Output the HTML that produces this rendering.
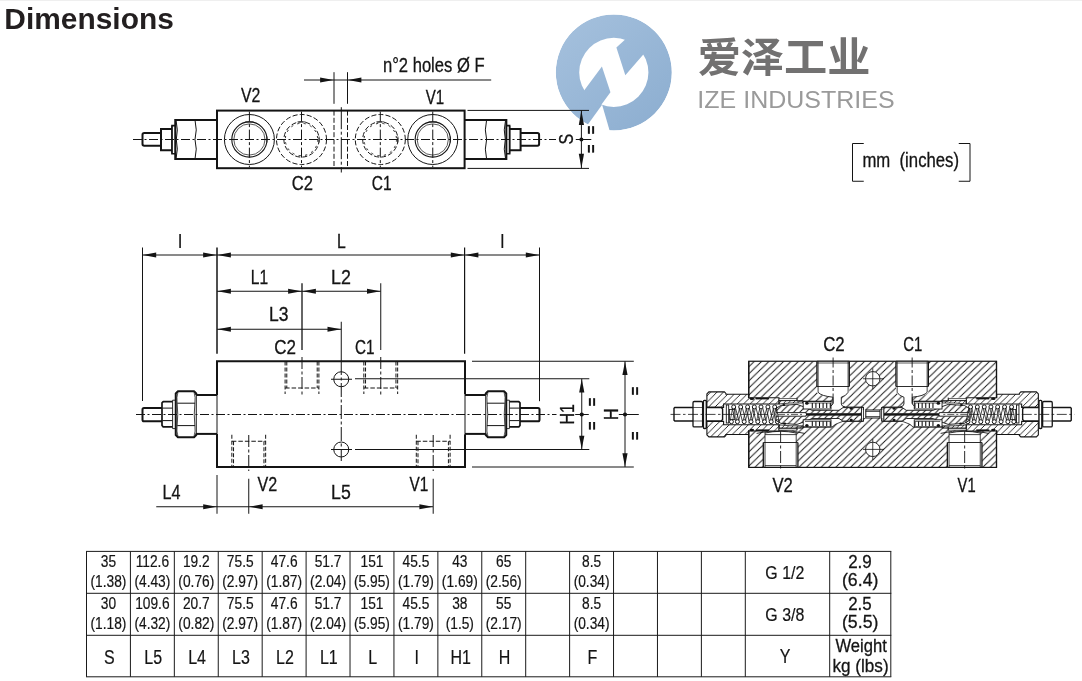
<!DOCTYPE html>
<html lang="en"><head><meta charset="utf-8"><title>Dimensions</title>
<style>html,body{margin:0;padding:0;background:#fff;overflow:hidden}svg{display:block}text{font-family:"Liberation Sans","Noto Sans CJK SC",sans-serif}</style></head>
<body>
<svg width="1082" height="681" viewBox="0 0 1082 681">
<rect width="1082" height="681" fill="#fff"/><rect width="1082" height="1" fill="#efefef"/>
<g opacity="0.999">
<defs><linearGradient id="lg" gradientUnits="userSpaceOnUse" x1="570" y1="25" x2="660" y2="120"><stop offset="0" stop-color="#a3bfdc"/><stop offset="1" stop-color="#8eafd1"/></linearGradient><clipPath id="lc"><circle cx="613.81" cy="72.38" r="58.0"/></clipPath></defs>
<g clip-path="url(#lc)">
<path fill="url(#lg)" fill-rule="evenodd" d="M555.81,72.38 a58.0,58.0 0 1,0 116.0,0 a58.0,58.0 0 1,0 -116.0,0 Z M579.21,72.38 a34.6,34.6 0 1,0 69.2,0 a34.6,34.6 0 1,0 -69.2,0 Z"/>
<polygon fill="url(#lg)" points="625.70,39.09 616.39,47.61 625.31,75.35 643.54,54.15 653.05,44.64 637.20,30.76"/>
<polygon fill="url(#lg)" points="584.09,90.61 601.92,66.43 610.44,92.20 601.13,105.08 585.67,115.98 573.78,98.14"/>
<polygon fill="#ffffff" points="602.12,104.68 579.73,135.80 613.42,143.72"/>
</g>
<text transform="translate(4.36,28.90) scale(0.9970,1)" font-size="30" fill="#231f20" font-weight="bold">Dimensions</text>
<text x="697.7" y="71.6" font-family="'Liberation Sans','Noto Sans CJK SC',sans-serif" font-weight="bold" font-size="41" fill="#727171" textLength="172.8" lengthAdjust="spacingAndGlyphs">爱泽工业</text>
<text transform="translate(697.35,107.80) scale(1.0211,1)" font-size="24.5" fill="#9a9a9a">IZE INDUSTRIES</text>
<path d="M863.75,143.5 H852.5 V181.25 H863.75" fill="none" stroke="#141414" stroke-width="1.0" stroke-linejoin="miter"/>
<path d="M958.75,143.5 H970 V181.25 H958.75" fill="none" stroke="#141414" stroke-width="1.0" stroke-linejoin="miter"/>
<text transform="translate(862.41,167.00) scale(0.8577,1)" font-size="19.5" fill="#141414" xml:space="preserve" stroke="#141414" stroke-width="0.3">mm  (inches)</text>
<line x1="133.00" y1="139.50" x2="556.00" y2="139.50" stroke="#141414" stroke-width="1.0" stroke-dasharray="9 2.5 2 2.5"/>
<path d="M161.00,133.1 H144.20 Q142.50,133.1 142.50,134.8 V144 Q142.50,145.7 144.20,145.7 H161.00" fill="none" stroke="#141414" stroke-width="2.0" stroke-linejoin="miter"/>
<path d="M172.00,129 H161.00 V150.25 H172.00" fill="none" stroke="#141414" stroke-width="2.0" stroke-linejoin="miter"/>
<path d="M175.25,125.6 H172.00 V153.75 H175.25" fill="none" stroke="#141414" stroke-width="1.7" stroke-linejoin="miter"/>
<path d="M217.00,120 H175.25 V159 H217.00" fill="none" stroke="#141414" stroke-width="2.0" stroke-linejoin="miter"/>
<path d="M195.00,120 Q197.50,130 195.00,139.5 Q197.50,149 195.00,159" fill="none" stroke="#141414" stroke-width="1.0" stroke-linejoin="miter"/>
<path d="M176.00,120 Q178.50,130 176.30,139.5 Q178.50,149 176.00,159" fill="none" stroke="#141414" stroke-width="1.0" stroke-linejoin="miter"/>
<line x1="171.70" y1="126.00" x2="171.70" y2="153.50" stroke="#141414" stroke-width="0.7"/>
<path d="M520.60,133.1 H537.40 Q539.10,133.1 539.10,134.8 V144 Q539.10,145.7 537.40,145.7 H520.60" fill="none" stroke="#141414" stroke-width="2.0" stroke-linejoin="miter"/>
<path d="M509.60,129 H520.60 V150.25 H509.60" fill="none" stroke="#141414" stroke-width="2.0" stroke-linejoin="miter"/>
<path d="M506.35,125.6 H509.60 V153.75 H506.35" fill="none" stroke="#141414" stroke-width="1.7" stroke-linejoin="miter"/>
<path d="M464.60,120 H506.35 V159 H464.60" fill="none" stroke="#141414" stroke-width="2.0" stroke-linejoin="miter"/>
<path d="M486.60,120 Q484.10,130 486.60,139.5 Q484.10,149 486.60,159" fill="none" stroke="#141414" stroke-width="1.0" stroke-linejoin="miter"/>
<path d="M505.60,120 Q503.10,130 505.30,139.5 Q503.10,149 505.60,159" fill="none" stroke="#141414" stroke-width="1.0" stroke-linejoin="miter"/>
<line x1="509.90" y1="126.00" x2="509.90" y2="153.50" stroke="#141414" stroke-width="0.7"/>
<rect x="217.00" y="110.60" width="247.60" height="57.60" fill="none" stroke="#141414" stroke-width="2.0"/>
<circle cx="249.40" cy="139.50" r="25.00" fill="none" stroke="#141414" stroke-width="1.0"/>
<circle cx="249.40" cy="139.50" r="17.60" fill="none" stroke="#141414" stroke-width="1.1"/>
<circle cx="249.40" cy="139.50" r="15.60" fill="none" stroke="#141414" stroke-width="0.7"/>
<line x1="249.40" y1="111.60" x2="249.40" y2="167.20" stroke="#141414" stroke-width="1.0" stroke-dasharray="10 2.5 3 2.5"/>
<line x1="245.40" y1="121.90" x2="253.40" y2="121.90" stroke="#141414" stroke-width="0.8"/>
<line x1="267.00" y1="136.50" x2="267.00" y2="142.50" stroke="#141414" stroke-width="0.8"/>
<circle cx="432.75" cy="139.50" r="25.00" fill="none" stroke="#141414" stroke-width="1.0"/>
<circle cx="432.75" cy="139.50" r="17.60" fill="none" stroke="#141414" stroke-width="1.1"/>
<circle cx="432.75" cy="139.50" r="15.60" fill="none" stroke="#141414" stroke-width="0.7"/>
<line x1="432.75" y1="111.60" x2="432.75" y2="167.20" stroke="#141414" stroke-width="1.0" stroke-dasharray="10 2.5 3 2.5"/>
<line x1="428.75" y1="121.90" x2="436.75" y2="121.90" stroke="#141414" stroke-width="0.8"/>
<line x1="450.35" y1="136.50" x2="450.35" y2="142.50" stroke="#141414" stroke-width="0.8"/>
<circle cx="301.50" cy="139.50" r="25.00" fill="none" stroke="#141414" stroke-width="1.0" stroke-dasharray="5 2.2"/>
<circle cx="301.50" cy="139.50" r="17.60" fill="none" stroke="#141414" stroke-width="1.0" stroke-dasharray="5 2.2"/>
<circle cx="301.50" cy="139.50" r="16.20" fill="none" stroke="#141414" stroke-width="0.9" stroke-dasharray="2.2 4.3"/>
<line x1="301.50" y1="111.60" x2="301.50" y2="167.20" stroke="#141414" stroke-width="1.0" stroke-dasharray="10 2.5 3 2.5"/>
<line x1="297.50" y1="121.90" x2="305.50" y2="121.90" stroke="#141414" stroke-width="0.8"/>
<line x1="319.10" y1="136.50" x2="319.10" y2="142.50" stroke="#141414" stroke-width="0.8"/>
<circle cx="380.30" cy="139.50" r="25.00" fill="none" stroke="#141414" stroke-width="1.0" stroke-dasharray="5 2.2"/>
<circle cx="380.30" cy="139.50" r="17.60" fill="none" stroke="#141414" stroke-width="1.0" stroke-dasharray="5 2.2"/>
<circle cx="380.30" cy="139.50" r="16.20" fill="none" stroke="#141414" stroke-width="0.9" stroke-dasharray="2.2 4.3"/>
<line x1="380.30" y1="111.60" x2="380.30" y2="167.20" stroke="#141414" stroke-width="1.0" stroke-dasharray="10 2.5 3 2.5"/>
<line x1="376.30" y1="121.90" x2="384.30" y2="121.90" stroke="#141414" stroke-width="0.8"/>
<line x1="397.90" y1="136.50" x2="397.90" y2="142.50" stroke="#141414" stroke-width="0.8"/>
<line x1="334.00" y1="110.60" x2="334.00" y2="168.20" stroke="#141414" stroke-width="1.0" stroke-dasharray="5 2.2"/>
<line x1="347.50" y1="110.60" x2="347.50" y2="168.20" stroke="#141414" stroke-width="1.0" stroke-dasharray="5 2.2"/>
<line x1="341.30" y1="107.20" x2="341.30" y2="172.50" stroke="#141414" stroke-width="1.0" stroke-dasharray="22 2.5 3 2.5"/>
<line x1="334.00" y1="72.20" x2="334.00" y2="103.80" stroke="#141414" stroke-width="1.0"/>
<line x1="347.50" y1="72.20" x2="347.50" y2="103.80" stroke="#141414" stroke-width="1.0"/>
<line x1="304.00" y1="80.00" x2="347.50" y2="80.00" stroke="#141414" stroke-width="1.0"/>
<polygon points="333.60,80.00 320.10,82.60 320.10,77.40" fill="#141414"/>
<line x1="347.50" y1="80.00" x2="491.20" y2="80.00" stroke="#141414" stroke-width="1.0"/>
<polygon points="347.90,80.00 361.40,77.40 361.40,82.60" fill="#141414"/>
<text transform="translate(382.92,71.50) scale(0.8306,1)" font-size="20" fill="#141414" stroke="#141414" stroke-width="0.3">n°2 holes Ø F</text>
<line x1="467.50" y1="110.40" x2="589.00" y2="110.40" stroke="#141414" stroke-width="1.0"/>
<line x1="467.50" y1="168.40" x2="589.00" y2="168.40" stroke="#141414" stroke-width="1.0"/>
<line x1="581.40" y1="110.40" x2="581.40" y2="168.40" stroke="#141414" stroke-width="1.0"/>
<polygon points="581.40,110.60 584.00,125.10 578.80,125.10" fill="#141414"/>
<polygon points="581.40,168.20 578.80,153.70 584.00,153.70" fill="#141414"/>
<circle cx="581.40" cy="139.50" r="2.00" fill="#141414" stroke="#141414" stroke-width="0"/>
<line x1="575.80" y1="139.50" x2="591.30" y2="139.50" stroke="#141414" stroke-width="1.0"/>
<text transform="translate(573.40,139.20) rotate(-90) scale(0.82,1)" font-size="19.5" fill="#141414" stroke="#141414" stroke-width="0.32" text-anchor="middle">S</text>
<text transform="translate(596.85,130.10) rotate(-90) scale(0.84,1)" font-size="17.4" fill="#141414" stroke="#141414" stroke-width="0.25" font-weight="bold" text-anchor="middle">=</text>
<text transform="translate(596.85,148.85) rotate(-90) scale(0.84,1)" font-size="17.4" fill="#141414" stroke="#141414" stroke-width="0.25" font-weight="bold" text-anchor="middle">=</text>
<text transform="translate(240.92,101.80) scale(0.8144,1)" font-size="19.5" fill="#141414" stroke="#141414" stroke-width="0.3">V2</text>
<text transform="translate(425.82,104.00) scale(0.7714,1)" font-size="19.5" fill="#141414" stroke="#141414" stroke-width="0.3">V1</text>
<text transform="translate(291.67,190.00) scale(0.8511,1)" font-size="19.5" fill="#141414" stroke="#141414" stroke-width="0.3">C2</text>
<text transform="translate(371.72,190.00) scale(0.7953,1)" font-size="19.5" fill="#141414" stroke="#141414" stroke-width="0.3">C1</text>
<line x1="136.00" y1="414.50" x2="556.50" y2="414.50" stroke="#141414" stroke-width="1.0" stroke-dasharray="9 2.5 2 2.5"/>
<line x1="575.20" y1="414.50" x2="588.80" y2="414.50" stroke="#141414" stroke-width="1.0"/>
<line x1="618.80" y1="414.50" x2="638.80" y2="414.50" stroke="#141414" stroke-width="1.0"/>
<line x1="196.20" y1="395.00" x2="217.00" y2="395.00" stroke="#141414" stroke-width="2.0"/>
<line x1="196.20" y1="433.90" x2="217.00" y2="433.90" stroke="#141414" stroke-width="2.0"/>
<path d="M196.25,394.95 V393.45 L194.05,391.25 H177.95 L175.75,393.45 V435.0 L177.95,437.2 H194.05 L196.25,435.0 V433.5" fill="none" stroke="#141414" stroke-width="2.0" stroke-linejoin="round"/>
<line x1="196.25" y1="393.45" x2="196.25" y2="435.00" stroke="#141414" stroke-width="1.0"/>
<line x1="177.25" y1="403.20" x2="195.05" y2="403.20" stroke="#141414" stroke-width="1.0"/>
<line x1="177.25" y1="425.60" x2="195.05" y2="425.60" stroke="#141414" stroke-width="1.0"/>
<path d="M177.95,392.25 Q176.35,397.25 177.15,403.2 M177.95,436.2 Q176.35,431.2 177.15,425.6" fill="none" stroke="#141414" stroke-width="0.7" stroke-linejoin="miter"/>
<path d="M194.05,392.25 Q195.65,397.25 194.85,403.2 M194.05,436.2 Q195.65,431.2 194.85,425.6" fill="none" stroke="#141414" stroke-width="0.7" stroke-linejoin="miter"/>
<path d="M177.15,403.2 Q178.35,414.4 177.15,425.6 M194.85,403.2 Q193.65,414.4 194.85,425.6" fill="none" stroke="#141414" stroke-width="0.8" stroke-linejoin="miter"/>
<line x1="172.60" y1="400.20" x2="172.60" y2="428.60" stroke="#141414" stroke-width="0.9"/>
<line x1="172.60" y1="400.20" x2="175.50" y2="400.20" stroke="#141414" stroke-width="0.9"/>
<line x1="172.60" y1="428.60" x2="175.50" y2="428.60" stroke="#141414" stroke-width="0.9"/>
<path d="M172.50,401.6 H163.20 L162.00,402.9 V425.5 L163.20,426.8 H172.50" fill="none" stroke="#141414" stroke-width="1.7" stroke-linejoin="round"/>
<line x1="162.50" y1="408.10" x2="172.50" y2="408.10" stroke="#141414" stroke-width="1.0"/>
<line x1="162.50" y1="420.60" x2="172.50" y2="420.60" stroke="#141414" stroke-width="1.0"/>
<path d="M162.00,408 H144.00 Q142.50,408 142.50,409.5 V419.7 Q142.50,421.25 144.00,421.25 H162.00" fill="none" stroke="#141414" stroke-width="2.0" stroke-linejoin="miter"/>
<line x1="217.00" y1="395.00" x2="217.00" y2="433.90" stroke="#141414" stroke-width="1.0"/>
<line x1="485.80" y1="395.00" x2="465.00" y2="395.00" stroke="#141414" stroke-width="2.0"/>
<line x1="485.80" y1="433.90" x2="465.00" y2="433.90" stroke="#141414" stroke-width="2.0"/>
<path d="M485.75,394.95 V393.45 L487.95,391.25 H504.05 L506.25,393.45 V435.0 L504.05,437.2 H487.95 L485.75,435.0 V433.5" fill="none" stroke="#141414" stroke-width="2.0" stroke-linejoin="round"/>
<line x1="485.75" y1="393.45" x2="485.75" y2="435.00" stroke="#141414" stroke-width="1.0"/>
<line x1="504.75" y1="403.20" x2="486.95" y2="403.20" stroke="#141414" stroke-width="1.0"/>
<line x1="504.75" y1="425.60" x2="486.95" y2="425.60" stroke="#141414" stroke-width="1.0"/>
<path d="M504.05,392.25 Q505.65,397.25 504.85,403.2 M504.05,436.2 Q505.65,431.2 504.85,425.6" fill="none" stroke="#141414" stroke-width="0.7" stroke-linejoin="miter"/>
<path d="M487.95,392.25 Q486.35,397.25 487.15,403.2 M487.95,436.2 Q486.35,431.2 487.15,425.6" fill="none" stroke="#141414" stroke-width="0.7" stroke-linejoin="miter"/>
<path d="M504.85,403.2 Q503.65,414.4 504.85,425.6 M487.15,403.2 Q488.35,414.4 487.15,425.6" fill="none" stroke="#141414" stroke-width="0.8" stroke-linejoin="miter"/>
<line x1="509.40" y1="400.20" x2="509.40" y2="428.60" stroke="#141414" stroke-width="0.9"/>
<line x1="509.40" y1="400.20" x2="506.50" y2="400.20" stroke="#141414" stroke-width="0.9"/>
<line x1="509.40" y1="428.60" x2="506.50" y2="428.60" stroke="#141414" stroke-width="0.9"/>
<path d="M509.50,401.6 H518.80 L520.00,402.9 V425.5 L518.80,426.8 H509.50" fill="none" stroke="#141414" stroke-width="1.7" stroke-linejoin="round"/>
<line x1="519.50" y1="408.10" x2="509.50" y2="408.10" stroke="#141414" stroke-width="1.0"/>
<line x1="519.50" y1="420.60" x2="509.50" y2="420.60" stroke="#141414" stroke-width="1.0"/>
<path d="M520.00,408 H538.00 Q539.50,408 539.50,409.5 V419.7 Q539.50,421.25 538.00,421.25 H520.00" fill="none" stroke="#141414" stroke-width="2.0" stroke-linejoin="miter"/>
<line x1="465.00" y1="395.00" x2="465.00" y2="433.90" stroke="#141414" stroke-width="1.0"/>
<path d="M217.0,395 V361.25 H465.0 V394.5 M217.0,433.9 V467.0 H465.0 V434.2" fill="none" stroke="#141414" stroke-width="2.0" stroke-linejoin="miter"/>
<line x1="285.10" y1="361.50" x2="285.10" y2="394.00" stroke="#141414" stroke-width="1.0" stroke-dasharray="4 2"/>
<line x1="286.79" y1="361.50" x2="286.79" y2="388.00" stroke="#141414" stroke-width="1.0" stroke-dasharray="4 2"/>
<line x1="318.90" y1="361.50" x2="318.90" y2="394.00" stroke="#141414" stroke-width="1.0" stroke-dasharray="4 2"/>
<line x1="317.21" y1="361.50" x2="317.21" y2="388.00" stroke="#141414" stroke-width="1.0" stroke-dasharray="4 2"/>
<line x1="285.10" y1="388.00" x2="318.90" y2="388.00" stroke="#141414" stroke-width="1.1" stroke-dasharray="4.5 2"/>
<line x1="363.85" y1="361.50" x2="363.85" y2="394.00" stroke="#141414" stroke-width="1.0" stroke-dasharray="4 2"/>
<line x1="365.54" y1="361.50" x2="365.54" y2="388.00" stroke="#141414" stroke-width="1.0" stroke-dasharray="4 2"/>
<line x1="397.65" y1="361.50" x2="397.65" y2="394.00" stroke="#141414" stroke-width="1.0" stroke-dasharray="4 2"/>
<line x1="395.96" y1="361.50" x2="395.96" y2="388.00" stroke="#141414" stroke-width="1.0" stroke-dasharray="4 2"/>
<line x1="363.85" y1="388.00" x2="397.65" y2="388.00" stroke="#141414" stroke-width="1.1" stroke-dasharray="4.5 2"/>
<line x1="231.85" y1="434.75" x2="231.85" y2="467.00" stroke="#141414" stroke-width="1.0" stroke-dasharray="4 2"/>
<line x1="233.54" y1="441.25" x2="233.54" y2="467.00" stroke="#141414" stroke-width="1.0" stroke-dasharray="4 2"/>
<line x1="265.65" y1="434.75" x2="265.65" y2="467.00" stroke="#141414" stroke-width="1.0" stroke-dasharray="4 2"/>
<line x1="263.96" y1="441.25" x2="263.96" y2="467.00" stroke="#141414" stroke-width="1.0" stroke-dasharray="4 2"/>
<line x1="231.85" y1="441.25" x2="265.65" y2="441.25" stroke="#141414" stroke-width="1.1" stroke-dasharray="4.5 2"/>
<line x1="416.30" y1="434.75" x2="416.30" y2="467.00" stroke="#141414" stroke-width="1.0" stroke-dasharray="4 2"/>
<line x1="417.99" y1="441.25" x2="417.99" y2="467.00" stroke="#141414" stroke-width="1.0" stroke-dasharray="4 2"/>
<line x1="450.10" y1="434.75" x2="450.10" y2="467.00" stroke="#141414" stroke-width="1.0" stroke-dasharray="4 2"/>
<line x1="448.41" y1="441.25" x2="448.41" y2="467.00" stroke="#141414" stroke-width="1.0" stroke-dasharray="4 2"/>
<line x1="416.30" y1="441.25" x2="450.10" y2="441.25" stroke="#141414" stroke-width="1.1" stroke-dasharray="4.5 2"/>
<line x1="302.00" y1="283.25" x2="302.00" y2="350.00" stroke="#141414" stroke-width="1.3"/>
<line x1="302.00" y1="357.00" x2="302.00" y2="395.00" stroke="#141414" stroke-width="1.0" stroke-dasharray="12 2.5 3 2.5"/>
<line x1="380.75" y1="283.25" x2="380.75" y2="350.00" stroke="#141414" stroke-width="1.0"/>
<line x1="380.75" y1="357.00" x2="380.75" y2="395.00" stroke="#141414" stroke-width="1.0" stroke-dasharray="12 2.5 3 2.5"/>
<line x1="248.75" y1="435.00" x2="248.75" y2="471.00" stroke="#141414" stroke-width="1.0" stroke-dasharray="12 2.5 3 2.5"/>
<line x1="433.20" y1="435.00" x2="433.20" y2="471.00" stroke="#141414" stroke-width="1.0" stroke-dasharray="12 2.5 3 2.5"/>
<circle cx="341.25" cy="379.25" r="7.50" fill="none" stroke="#141414" stroke-width="1.0"/>
<line x1="331.00" y1="379.25" x2="352.00" y2="379.25" stroke="#141414" stroke-width="1.0"/>
<circle cx="341.25" cy="449.50" r="7.50" fill="none" stroke="#141414" stroke-width="1.0"/>
<line x1="331.00" y1="449.50" x2="352.00" y2="449.50" stroke="#141414" stroke-width="1.0"/>
<line x1="341.25" y1="321.75" x2="341.25" y2="361.00" stroke="#141414" stroke-width="1.0"/>
<line x1="341.25" y1="361.00" x2="341.25" y2="461.00" stroke="#141414" stroke-width="1.0" stroke-dasharray="14 2.5 3 2.5"/>
<line x1="355.00" y1="378.75" x2="589.30" y2="378.75" stroke="#141414" stroke-width="1.0"/>
<line x1="355.00" y1="449.50" x2="589.30" y2="449.50" stroke="#141414" stroke-width="1.0"/>
<line x1="472.00" y1="361.25" x2="633.80" y2="361.25" stroke="#141414" stroke-width="1.0"/>
<line x1="472.00" y1="467.00" x2="633.80" y2="467.00" stroke="#141414" stroke-width="1.0"/>
<line x1="581.75" y1="378.75" x2="581.75" y2="449.50" stroke="#141414" stroke-width="1.0"/>
<polygon points="581.75,379.00 584.35,392.50 579.15,392.50" fill="#141414"/>
<polygon points="581.75,449.30 579.15,435.80 584.35,435.80" fill="#141414"/>
<circle cx="581.75" cy="414.50" r="2.10" fill="#141414" stroke="#141414" stroke-width="0"/>
<line x1="625.00" y1="361.25" x2="625.00" y2="467.00" stroke="#141414" stroke-width="1.0"/>
<polygon points="625.00,361.50 627.60,375.00 622.40,375.00" fill="#141414"/>
<polygon points="625.00,466.80 622.40,453.30 627.60,453.30" fill="#141414"/>
<circle cx="625.00" cy="414.50" r="2.10" fill="#141414" stroke="#141414" stroke-width="0"/>
<text transform="translate(574.30,414.30) rotate(-90) scale(0.82,1)" font-size="19.5" fill="#141414" stroke="#141414" stroke-width="0.32" text-anchor="middle">H1</text>
<text transform="translate(617.80,414.30) rotate(-90) scale(0.82,1)" font-size="19.5" fill="#141414" stroke="#141414" stroke-width="0.32" text-anchor="middle">H</text>
<text transform="translate(597.50,402.00) rotate(-90) scale(0.84,1)" font-size="17.4" fill="#141414" stroke="#141414" stroke-width="0.25" font-weight="bold" text-anchor="middle">=</text>
<text transform="translate(597.50,425.85) rotate(-90) scale(0.84,1)" font-size="17.4" fill="#141414" stroke="#141414" stroke-width="0.25" font-weight="bold" text-anchor="middle">=</text>
<text transform="translate(640.90,390.95) rotate(-90) scale(0.84,1)" font-size="17.4" fill="#141414" stroke="#141414" stroke-width="0.25" font-weight="bold" text-anchor="middle">=</text>
<text transform="translate(640.90,435.85) rotate(-90) scale(0.84,1)" font-size="17.4" fill="#141414" stroke="#141414" stroke-width="0.25" font-weight="bold" text-anchor="middle">=</text>
<line x1="142.50" y1="247.50" x2="142.50" y2="401.00" stroke="#141414" stroke-width="1.0"/>
<line x1="217.00" y1="247.50" x2="217.00" y2="353.75" stroke="#141414" stroke-width="1.5"/>
<line x1="464.60" y1="247.50" x2="464.60" y2="353.75" stroke="#141414" stroke-width="1.2"/>
<line x1="539.50" y1="247.50" x2="539.50" y2="401.20" stroke="#141414" stroke-width="1.0"/>
<line x1="142.50" y1="255.00" x2="539.50" y2="255.00" stroke="#141414" stroke-width="1.0"/>
<polygon points="142.70,255.00 156.20,252.40 156.20,257.60" fill="#141414"/>
<polygon points="216.60,255.00 203.10,257.60 203.10,252.40" fill="#141414"/>
<polygon points="217.40,255.00 230.90,252.40 230.90,257.60" fill="#141414"/>
<polygon points="464.30,255.00 450.80,257.60 450.80,252.40" fill="#141414"/>
<polygon points="464.90,255.00 478.40,252.40 478.40,257.60" fill="#141414"/>
<polygon points="539.30,255.00 525.80,257.60 525.80,252.40" fill="#141414"/>
<text transform="translate(177.78,247.50) scale(0.8637,1)" font-size="19.5" fill="#141414" stroke="#141414" stroke-width="0.15">I</text>
<text transform="translate(500.08,247.50) scale(0.8637,1)" font-size="19.5" fill="#141414" stroke="#141414" stroke-width="0.15">I</text>
<text transform="translate(336.94,247.50) scale(0.8067,1)" font-size="19.5" fill="#141414" stroke="#141414" stroke-width="0.3">L</text>
<line x1="217.00" y1="291.25" x2="380.75" y2="291.25" stroke="#141414" stroke-width="1.0"/>
<polygon points="217.40,291.25 230.90,288.65 230.90,293.85" fill="#141414"/>
<polygon points="301.60,291.25 288.10,293.85 288.10,288.65" fill="#141414"/>
<polygon points="302.40,291.25 315.90,288.65 315.90,293.85" fill="#141414"/>
<polygon points="380.50,291.25 367.00,293.85 367.00,288.65" fill="#141414"/>
<text transform="translate(250.76,283.75) scale(0.7966,1)" font-size="19.5" fill="#141414" stroke="#141414" stroke-width="0.3">L1</text>
<text transform="translate(331.07,283.75) scale(0.9158,1)" font-size="19.5" fill="#141414" stroke="#141414" stroke-width="0.3">L2</text>
<line x1="217.00" y1="329.25" x2="341.25" y2="329.25" stroke="#141414" stroke-width="1.0"/>
<polygon points="217.40,329.25 230.90,326.65 230.90,331.85" fill="#141414"/>
<polygon points="341.00,329.25 327.50,331.85 327.50,326.65" fill="#141414"/>
<text transform="translate(269.10,320.50) scale(0.8961,1)" font-size="19.5" fill="#141414" stroke="#141414" stroke-width="0.3">L3</text>
<text transform="translate(274.15,353.75) scale(0.8729,1)" font-size="19.5" fill="#141414" stroke="#141414" stroke-width="0.3">C2</text>
<text transform="translate(354.99,353.75) scale(0.7823,1)" font-size="19.5" fill="#141414" stroke="#141414" stroke-width="0.3">C1</text>
<line x1="217.00" y1="475.00" x2="217.00" y2="513.75" stroke="#141414" stroke-width="1.0"/>
<line x1="248.75" y1="478.75" x2="248.75" y2="513.75" stroke="#141414" stroke-width="1.0"/>
<line x1="433.20" y1="478.75" x2="433.20" y2="513.75" stroke="#141414" stroke-width="1.0"/>
<line x1="156.25" y1="506.75" x2="217.00" y2="506.75" stroke="#141414" stroke-width="1.0"/>
<polygon points="216.70,506.75 203.20,509.35 203.20,504.15" fill="#141414"/>
<line x1="217.00" y1="506.75" x2="433.00" y2="506.75" stroke="#141414" stroke-width="1.0"/>
<polygon points="249.10,506.75 262.60,504.15 262.60,509.35" fill="#141414"/>
<polygon points="432.90,506.75 419.40,509.35 419.40,504.15" fill="#141414"/>
<text transform="translate(162.46,498.75) scale(0.8292,1)" font-size="19.5" fill="#141414" stroke="#141414" stroke-width="0.3">L4</text>
<text transform="translate(331.09,498.75) scale(0.9065,1)" font-size="19.5" fill="#141414" stroke="#141414" stroke-width="0.3">L5</text>
<text transform="translate(257.42,491.25) scale(0.8254,1)" font-size="19.5" fill="#141414" stroke="#141414" stroke-width="0.3">V2</text>
<text transform="translate(409.42,490.75) scale(0.7890,1)" font-size="19.5" fill="#141414" stroke="#141414" stroke-width="0.3">V1</text>
<defs><pattern id="h1" patternUnits="userSpaceOnUse" width="7.35" height="7.1" patternTransform="translate(3.87,0)"><path d="M-1.035,8.1 L8.385,-1 M-1.035,1 L1.035,-1 M6.315,8.1 L8.385,6.1" stroke="#141414" stroke-width="0.95"/></pattern><pattern id="h2" patternUnits="userSpaceOnUse" width="6.4" height="6.4" patternTransform="translate(2,0)"><path d="M-1,7.4 L7.4,-1 M-1,1 L1,-1 M5.4,7.4 L7.4,5.4" stroke="#141414" stroke-width="0.9"/></pattern><pattern id="h3" patternUnits="userSpaceOnUse" width="4.6" height="4.6"><path d="M-1,5.6 L5.6,-1 M-1,1 L1,-1 M3.6,5.6 L5.6,3.6" stroke="#141414" stroke-width="0.85"/></pattern><pattern id="h4" patternUnits="userSpaceOnUse" width="6.2" height="6.2" patternTransform="translate(3,0)"><path d="M-1,7.2 L7.2,-1 M-1,1 L1,-1 M5.2,7.2 L7.2,5.2" stroke="#141414" stroke-width="1.0"/></pattern></defs>
<rect x="748.75" y="361.25" width="247.75" height="106.15" fill="url(#h1)" stroke="#141414" stroke-width="1.2"/>
<path d="M748.25,397.50 L797.00,397.50 L797.00,401.20 L832.00,401.20 L832.00,404.00 L843.00,404.00 L843.00,407.00 L863.30,407.00 L863.30,410.00 L873.12,410.00 L873.12,418.00 L863.30,418.00 L863.30,421.30 L843.00,421.30 L843.00,424.00 L832.00,424.00 L832.00,427.00 L797.00,427.00 L797.00,430.30 L748.25,430.30 Z" fill="#fff" stroke="#141414" stroke-width="0" stroke-linejoin="miter"/>
<path d="M816.90,361.25 L816.90,392.50 L820.10,395.00 L832.90,397.20 L832.90,406.00 L841.30,406.00 L841.30,397.20 L846.10,395.50 L849.30,392.50 L849.30,361.25 Z" fill="#fff" stroke="#141414" stroke-width="0" stroke-linejoin="miter"/>
<line x1="816.90" y1="361.25" x2="816.90" y2="386.50" stroke="#141414" stroke-width="1.3"/>
<line x1="849.30" y1="361.25" x2="849.30" y2="386.50" stroke="#141414" stroke-width="1.3"/>
<line x1="818.10" y1="361.25" x2="818.10" y2="392.30" stroke="#141414" stroke-width="0.8"/>
<line x1="848.10" y1="361.25" x2="848.10" y2="392.30" stroke="#141414" stroke-width="0.8"/>
<line x1="816.90" y1="363.00" x2="849.30" y2="363.00" stroke="#141414" stroke-width="0.7"/>
<line x1="816.90" y1="361.25" x2="849.30" y2="361.25" stroke="#141414" stroke-width="1.2"/>
<line x1="816.90" y1="386.50" x2="849.30" y2="386.50" stroke="#141414" stroke-width="0.9"/>
<path d="M818.10,392.3 Q821.10,396 832.90,397.2 V404 Q832.10,406.3 827.10,407.5" fill="none" stroke="#141414" stroke-width="0.9" stroke-linejoin="miter"/>
<path d="M848.10,392.3 Q846.10,396 841.30,397.2 V404 Q841.70,406.6 845.10,407" fill="none" stroke="#141414" stroke-width="0.9" stroke-linejoin="miter"/>
<line x1="833.10" y1="357.50" x2="833.10" y2="404.00" stroke="#141414" stroke-width="0.9" stroke-dasharray="10 2.5 3 2.5"/>
<path d="M763.30,467.79999999999995 V442.5 H765.00 V432.2 Q780.60,428.4 796.20,432.2 V442.5 H797.90 V467.79999999999995 Z" fill="#fff" stroke="#141414" stroke-width="0" stroke-linejoin="miter"/>
<line x1="763.30" y1="467.40" x2="763.30" y2="442.50" stroke="#141414" stroke-width="1.3"/>
<line x1="797.90" y1="467.40" x2="797.90" y2="442.50" stroke="#141414" stroke-width="1.3"/>
<line x1="765.00" y1="467.40" x2="765.00" y2="431.60" stroke="#141414" stroke-width="0.8"/>
<line x1="796.20" y1="467.40" x2="796.20" y2="431.60" stroke="#141414" stroke-width="0.8"/>
<line x1="763.30" y1="442.50" x2="797.90" y2="442.50" stroke="#141414" stroke-width="0.9"/>
<line x1="765.00" y1="434.60" x2="796.20" y2="434.60" stroke="#141414" stroke-width="0.8"/>
<line x1="765.00" y1="465.60" x2="796.20" y2="465.60" stroke="#141414" stroke-width="0.8"/>
<path d="M756.60,433.4 Q780.60,427.6 804.60,433.4" fill="none" stroke="#141414" stroke-width="0.9" stroke-linejoin="miter"/>
<path d="M765.00,433.0 Q780.60,429.6 796.20,433.0" fill="none" stroke="#141414" stroke-width="0.9" stroke-linejoin="miter"/>
<line x1="763.30" y1="467.40" x2="797.90" y2="467.40" stroke="#141414" stroke-width="1.2"/>
<line x1="780.60" y1="431.00" x2="780.60" y2="470.60" stroke="#141414" stroke-width="0.9" stroke-dasharray="12 2.5 3 2.5"/>
<path d="M706.90,393.90 L708.90,391.90 L724.40,391.90 L725.90,393.40 L725.90,394.30 L748.50,394.30 L748.50,397.80 L779.00,397.80 L779.00,404.00 L723.60,404.00 L723.60,407.40 L706.90,407.40 Z" fill="#fff" stroke="#141414" stroke-width="0" stroke-linejoin="miter"/>
<path d="M706.90,434.90 L708.90,436.90 L724.40,436.90 L725.90,435.40 L725.90,434.50 L748.50,434.50 L748.50,431.00 L779.00,431.00 L779.00,424.80 L723.60,424.80 L723.60,421.40 L706.90,421.40 Z" fill="#fff" stroke="#141414" stroke-width="0" stroke-linejoin="miter"/>
<path d="M706.90,393.90 L708.90,391.90 L724.40,391.90 L725.90,393.40 L725.90,394.30 L748.50,394.30 L748.50,397.80 L779.00,397.80 L779.00,404.00 L723.60,404.00 L723.60,407.40 L706.90,407.40 Z" fill="url(#h2)" stroke="#141414" stroke-width="1.1" stroke-linejoin="miter"/>
<path d="M706.90,434.90 L708.90,436.90 L724.40,436.90 L725.90,435.40 L725.90,434.50 L748.50,434.50 L748.50,431.00 L779.00,431.00 L779.00,424.80 L723.60,424.80 L723.60,421.40 L706.90,421.40 Z" fill="url(#h2)" stroke="#141414" stroke-width="1.1" stroke-linejoin="miter"/>
<path d="M674.80,407.50 L721.30,407.50 L722.60,409.00 L722.60,419.60 L721.30,421.00 L674.80,421.00 L674.00,420.20 L674.00,408.30 Z" fill="#fff" stroke="#141414" stroke-width="1.4" stroke-linejoin="miter"/>
<rect x="693.00" y="401.50" width="9.60" height="25.40" fill="#fff" stroke="#141414" stroke-width="1.3" rx="1.2"/>
<line x1="693.00" y1="407.50" x2="702.60" y2="407.50" stroke="#141414" stroke-width="0.7"/>
<line x1="693.00" y1="421.00" x2="702.60" y2="421.00" stroke="#141414" stroke-width="0.7"/>
<rect x="703.40" y="400.40" width="2.90" height="28.10" fill="#fff" stroke="#141414" stroke-width="1.4" rx="1"/>
<rect x="726.30" y="405.00" width="2.40" height="18.00" fill="#fff" stroke="#141414" stroke-width="0.9"/>
<rect x="729.50" y="409.50" width="5.50" height="10.00" fill="none" stroke="#141414" stroke-width="0.8"/>
<line x1="732.10" y1="408.10" x2="735.50" y2="420.90" stroke="#141414" stroke-width="0.8"/>
<line x1="735.40" y1="407.90" x2="738.90" y2="420.40" stroke="#141414" stroke-width="0.8"/>
<line x1="739.10" y1="408.10" x2="742.30" y2="420.90" stroke="#141414" stroke-width="0.8"/>
<line x1="742.40" y1="407.90" x2="745.70" y2="420.40" stroke="#141414" stroke-width="0.8"/>
<line x1="746.00" y1="408.10" x2="749.10" y2="420.90" stroke="#141414" stroke-width="0.8"/>
<line x1="749.30" y1="407.90" x2="752.50" y2="420.40" stroke="#141414" stroke-width="0.8"/>
<line x1="752.70" y1="408.10" x2="755.90" y2="420.90" stroke="#141414" stroke-width="0.8"/>
<line x1="756.00" y1="407.90" x2="759.30" y2="420.40" stroke="#141414" stroke-width="0.8"/>
<line x1="759.40" y1="408.10" x2="762.60" y2="420.90" stroke="#141414" stroke-width="0.8"/>
<line x1="762.70" y1="407.90" x2="766.00" y2="420.40" stroke="#141414" stroke-width="0.8"/>
<line x1="766.30" y1="408.10" x2="769.30" y2="420.90" stroke="#141414" stroke-width="0.8"/>
<line x1="769.60" y1="407.90" x2="772.70" y2="420.40" stroke="#141414" stroke-width="0.8"/>
<line x1="773.10" y1="408.10" x2="775.50" y2="420.90" stroke="#141414" stroke-width="0.8"/>
<line x1="776.40" y1="407.90" x2="778.90" y2="420.40" stroke="#141414" stroke-width="0.8"/>
<line x1="732.50" y1="408.50" x2="730.40" y2="419.80" stroke="#141414" stroke-width="0.7"/>
<line x1="734.70" y1="408.80" x2="732.80" y2="420.20" stroke="#141414" stroke-width="0.7"/>
<line x1="739.50" y1="408.50" x2="736.40" y2="419.80" stroke="#141414" stroke-width="0.7"/>
<line x1="741.70" y1="408.80" x2="738.80" y2="420.20" stroke="#141414" stroke-width="0.7"/>
<line x1="746.40" y1="408.50" x2="743.20" y2="419.80" stroke="#141414" stroke-width="0.7"/>
<line x1="748.60" y1="408.80" x2="745.60" y2="420.20" stroke="#141414" stroke-width="0.7"/>
<line x1="753.10" y1="408.50" x2="750.00" y2="419.80" stroke="#141414" stroke-width="0.7"/>
<line x1="755.30" y1="408.80" x2="752.40" y2="420.20" stroke="#141414" stroke-width="0.7"/>
<line x1="759.80" y1="408.50" x2="756.80" y2="419.80" stroke="#141414" stroke-width="0.7"/>
<line x1="762.00" y1="408.80" x2="759.20" y2="420.20" stroke="#141414" stroke-width="0.7"/>
<line x1="766.70" y1="408.50" x2="763.50" y2="419.80" stroke="#141414" stroke-width="0.7"/>
<line x1="768.90" y1="408.80" x2="765.90" y2="420.20" stroke="#141414" stroke-width="0.7"/>
<line x1="773.50" y1="408.50" x2="770.20" y2="419.80" stroke="#141414" stroke-width="0.7"/>
<line x1="775.70" y1="408.80" x2="772.60" y2="420.20" stroke="#141414" stroke-width="0.7"/>
<circle cx="733.70" cy="406.90" r="2.00" fill="#fff" stroke="#141414" stroke-width="1.0"/>
<circle cx="740.70" cy="406.90" r="2.00" fill="#fff" stroke="#141414" stroke-width="1.0"/>
<circle cx="747.60" cy="406.90" r="2.00" fill="#fff" stroke="#141414" stroke-width="1.0"/>
<circle cx="754.30" cy="406.90" r="2.00" fill="#fff" stroke="#141414" stroke-width="1.0"/>
<circle cx="761.00" cy="406.90" r="2.00" fill="#fff" stroke="#141414" stroke-width="1.0"/>
<circle cx="767.90" cy="406.90" r="2.00" fill="#fff" stroke="#141414" stroke-width="1.0"/>
<circle cx="774.70" cy="406.90" r="2.00" fill="#fff" stroke="#141414" stroke-width="1.0"/>
<circle cx="731.40" cy="421.70" r="2.00" fill="#fff" stroke="#141414" stroke-width="1.0"/>
<circle cx="737.40" cy="421.70" r="2.00" fill="#fff" stroke="#141414" stroke-width="1.0"/>
<circle cx="744.20" cy="421.70" r="2.00" fill="#fff" stroke="#141414" stroke-width="1.0"/>
<circle cx="751.00" cy="421.70" r="2.00" fill="#fff" stroke="#141414" stroke-width="1.0"/>
<circle cx="757.80" cy="421.70" r="2.00" fill="#fff" stroke="#141414" stroke-width="1.0"/>
<circle cx="764.50" cy="421.70" r="2.00" fill="#fff" stroke="#141414" stroke-width="1.0"/>
<circle cx="771.20" cy="421.70" r="2.00" fill="#fff" stroke="#141414" stroke-width="1.0"/>
<circle cx="777.40" cy="421.70" r="2.00" fill="#fff" stroke="#141414" stroke-width="1.0"/>
<path d="M776.00,408.30 L781.00,405.40 L797.00,404.40 L806.00,407.60 L812.00,410.30 L839.00,410.30 L843.00,407.60 L861.50,407.60 L861.50,413.70 L806.00,413.70 L806.00,412.60 L776.00,412.60 Z" fill="url(#h4)" stroke="#141414" stroke-width="0.9" stroke-linejoin="miter"/>
<path d="M776.00,420.50 L781.00,423.40 L797.00,424.40 L806.00,421.20 L812.00,418.50 L839.00,418.50 L843.00,421.20 L861.50,421.20 L861.50,415.10 L806.00,415.10 L806.00,416.20 L776.00,416.20 Z" fill="url(#h4)" stroke="#141414" stroke-width="0.9" stroke-linejoin="miter"/>
<line x1="776.00" y1="412.60" x2="776.00" y2="416.20" stroke="#141414" stroke-width="0.8"/>
<line x1="778.00" y1="414.40" x2="804.00" y2="414.40" stroke="#141414" stroke-width="0.7" stroke-dasharray="7 2 2 2"/>
<line x1="806.00" y1="414.40" x2="862.00" y2="414.40" stroke="#141414" stroke-width="1.5"/>
<path d="M779.00,398.60 L797.00,398.60 L797.00,400.60 L779.00,400.60 Z" fill="#fff" stroke="#141414" stroke-width="0.7" stroke-linejoin="miter"/>
<path d="M779.00,428.20 L797.00,428.20 L797.00,430.20 L779.00,430.20 Z" fill="#fff" stroke="#141414" stroke-width="0.7" stroke-linejoin="miter"/>
<path d="M779.00,400.60 L803.00,400.60 L803.00,403.00 L790.00,403.00 L779.00,404.00 Z" fill="url(#h3)" stroke="#141414" stroke-width="0.8" stroke-linejoin="miter"/>
<path d="M779.00,428.20 L803.00,428.20 L803.00,425.80 L790.00,425.80 L779.00,424.80 Z" fill="url(#h3)" stroke="#141414" stroke-width="0.8" stroke-linejoin="miter"/>
<rect x="803.20" y="401.40" width="27.80" height="7.60" fill="#fff" stroke="#141414" stroke-width="0.9"/>
<line x1="812.30" y1="402.90" x2="812.30" y2="408.00" stroke="#141414" stroke-width="1.1"/>
<line x1="815.90" y1="402.90" x2="815.90" y2="408.00" stroke="#141414" stroke-width="1.1"/>
<line x1="819.50" y1="402.90" x2="819.50" y2="408.00" stroke="#141414" stroke-width="1.1"/>
<line x1="823.10" y1="402.90" x2="823.10" y2="408.00" stroke="#141414" stroke-width="1.1"/>
<line x1="826.70" y1="402.90" x2="826.70" y2="408.00" stroke="#141414" stroke-width="1.1"/>
<line x1="830.30" y1="402.90" x2="830.30" y2="408.00" stroke="#141414" stroke-width="1.1"/>
<line x1="805.00" y1="403.00" x2="830.00" y2="403.00" stroke="#141414" stroke-width="0.7"/>
<rect x="803.20" y="419.80" width="27.80" height="7.20" fill="#fff" stroke="#141414" stroke-width="0.9"/>
<line x1="812.30" y1="421.30" x2="812.30" y2="426.00" stroke="#141414" stroke-width="1.1"/>
<line x1="815.90" y1="421.30" x2="815.90" y2="426.00" stroke="#141414" stroke-width="1.1"/>
<line x1="819.50" y1="421.30" x2="819.50" y2="426.00" stroke="#141414" stroke-width="1.1"/>
<line x1="823.10" y1="421.30" x2="823.10" y2="426.00" stroke="#141414" stroke-width="1.1"/>
<line x1="826.70" y1="421.30" x2="826.70" y2="426.00" stroke="#141414" stroke-width="1.1"/>
<line x1="830.30" y1="421.30" x2="830.30" y2="426.00" stroke="#141414" stroke-width="1.1"/>
<line x1="805.00" y1="421.40" x2="830.00" y2="421.40" stroke="#141414" stroke-width="0.7"/>
<ellipse cx="751.90" cy="398.7" rx="2.25" ry="1.3" fill="#111"/>
<ellipse cx="751.90" cy="430.0" rx="2.25" ry="1.3" fill="#111"/>
<ellipse cx="783.80" cy="405.0" rx="1.5" ry="1.1" fill="#111"/>
<ellipse cx="784.60" cy="423.7" rx="1.5" ry="1.1" fill="#111"/>
<ellipse cx="806.90" cy="403.2" rx="1.7" ry="1.5" fill="#111"/>
<ellipse cx="806.90" cy="425.6" rx="1.7" ry="1.5" fill="#111"/>
<ellipse cx="851.20" cy="408.6" rx="1.6" ry="1.2" fill="#111"/>
<ellipse cx="851.20" cy="420.0" rx="1.6" ry="1.2" fill="#111"/>
<line x1="756.00" y1="398.60" x2="769.00" y2="398.60" stroke="#141414" stroke-width="1.6"/>
<line x1="756.00" y1="430.20" x2="769.00" y2="430.20" stroke="#141414" stroke-width="1.6"/>
<rect x="861.50" y="407.40" width="2.10" height="13.80" fill="#fff" stroke="#141414" stroke-width="0.8"/>
<path d="M797.00,397.50 L797.00,401.20 L832.00,401.20" fill="none" stroke="#141414" stroke-width="0.8" stroke-linejoin="miter"/>
<path d="M797.00,430.30 L797.00,427.00 L832.00,427.00 L836.00,424.00 L843.00,421.30 L863.30,421.30 L863.30,418.00" fill="none" stroke="#141414" stroke-width="0.8" stroke-linejoin="miter"/>
<path d="M843.00,407.00 L863.30,407.00 L863.30,410.00" fill="none" stroke="#141414" stroke-width="0.8" stroke-linejoin="miter"/>
<path d="M997.00,397.50 L948.25,397.50 L948.25,401.20 L913.25,401.20 L913.25,404.00 L902.25,404.00 L902.25,407.00 L881.95,407.00 L881.95,410.00 L872.12,410.00 L872.12,418.00 L881.95,418.00 L881.95,421.30 L902.25,421.30 L902.25,424.00 L913.25,424.00 L913.25,427.00 L948.25,427.00 L948.25,430.30 L997.00,430.30 Z" fill="#fff" stroke="#141414" stroke-width="0" stroke-linejoin="miter"/>
<path d="M928.35,361.25 L928.35,392.50 L925.15,395.00 L912.35,397.20 L912.35,406.00 L903.95,406.00 L903.95,397.20 L899.15,395.50 L895.95,392.50 L895.95,361.25 Z" fill="#fff" stroke="#141414" stroke-width="0" stroke-linejoin="miter"/>
<line x1="928.35" y1="361.25" x2="928.35" y2="386.50" stroke="#141414" stroke-width="1.3"/>
<line x1="895.95" y1="361.25" x2="895.95" y2="386.50" stroke="#141414" stroke-width="1.3"/>
<line x1="927.15" y1="361.25" x2="927.15" y2="392.30" stroke="#141414" stroke-width="0.8"/>
<line x1="897.15" y1="361.25" x2="897.15" y2="392.30" stroke="#141414" stroke-width="0.8"/>
<line x1="928.35" y1="363.00" x2="895.95" y2="363.00" stroke="#141414" stroke-width="0.7"/>
<line x1="928.35" y1="361.25" x2="895.95" y2="361.25" stroke="#141414" stroke-width="1.2"/>
<line x1="928.35" y1="386.50" x2="895.95" y2="386.50" stroke="#141414" stroke-width="0.9"/>
<path d="M927.15,392.3 Q924.15,396 912.35,397.2 V404 Q913.15,406.3 918.15,407.5" fill="none" stroke="#141414" stroke-width="0.9" stroke-linejoin="miter"/>
<path d="M897.15,392.3 Q899.15,396 903.95,397.2 V404 Q903.55,406.6 900.15,407" fill="none" stroke="#141414" stroke-width="0.9" stroke-linejoin="miter"/>
<line x1="912.15" y1="357.50" x2="912.15" y2="404.00" stroke="#141414" stroke-width="0.9" stroke-dasharray="10 2.5 3 2.5"/>
<path d="M981.95,467.79999999999995 V442.5 H980.25 V432.2 Q964.65,428.4 949.05,432.2 V442.5 H947.35 V467.79999999999995 Z" fill="#fff" stroke="#141414" stroke-width="0" stroke-linejoin="miter"/>
<line x1="981.95" y1="467.40" x2="981.95" y2="442.50" stroke="#141414" stroke-width="1.3"/>
<line x1="947.35" y1="467.40" x2="947.35" y2="442.50" stroke="#141414" stroke-width="1.3"/>
<line x1="980.25" y1="467.40" x2="980.25" y2="431.60" stroke="#141414" stroke-width="0.8"/>
<line x1="949.05" y1="467.40" x2="949.05" y2="431.60" stroke="#141414" stroke-width="0.8"/>
<line x1="981.95" y1="442.50" x2="947.35" y2="442.50" stroke="#141414" stroke-width="0.9"/>
<line x1="980.25" y1="434.60" x2="949.05" y2="434.60" stroke="#141414" stroke-width="0.8"/>
<line x1="980.25" y1="465.60" x2="949.05" y2="465.60" stroke="#141414" stroke-width="0.8"/>
<path d="M988.65,433.4 Q964.65,427.6 940.65,433.4" fill="none" stroke="#141414" stroke-width="0.9" stroke-linejoin="miter"/>
<path d="M980.25,433.0 Q964.65,429.6 949.05,433.0" fill="none" stroke="#141414" stroke-width="0.9" stroke-linejoin="miter"/>
<line x1="981.95" y1="467.40" x2="947.35" y2="467.40" stroke="#141414" stroke-width="1.2"/>
<line x1="964.65" y1="431.00" x2="964.65" y2="470.60" stroke="#141414" stroke-width="0.9" stroke-dasharray="12 2.5 3 2.5"/>
<path d="M1038.35,393.90 L1036.35,391.90 L1020.85,391.90 L1019.35,393.40 L1019.35,394.30 L996.75,394.30 L996.75,397.80 L966.25,397.80 L966.25,404.00 L1021.65,404.00 L1021.65,407.40 L1038.35,407.40 Z" fill="#fff" stroke="#141414" stroke-width="0" stroke-linejoin="miter"/>
<path d="M1038.35,434.90 L1036.35,436.90 L1020.85,436.90 L1019.35,435.40 L1019.35,434.50 L996.75,434.50 L996.75,431.00 L966.25,431.00 L966.25,424.80 L1021.65,424.80 L1021.65,421.40 L1038.35,421.40 Z" fill="#fff" stroke="#141414" stroke-width="0" stroke-linejoin="miter"/>
<path d="M1038.35,393.90 L1036.35,391.90 L1020.85,391.90 L1019.35,393.40 L1019.35,394.30 L996.75,394.30 L996.75,397.80 L966.25,397.80 L966.25,404.00 L1021.65,404.00 L1021.65,407.40 L1038.35,407.40 Z" fill="url(#h2)" stroke="#141414" stroke-width="1.1" stroke-linejoin="miter"/>
<path d="M1038.35,434.90 L1036.35,436.90 L1020.85,436.90 L1019.35,435.40 L1019.35,434.50 L996.75,434.50 L996.75,431.00 L966.25,431.00 L966.25,424.80 L1021.65,424.80 L1021.65,421.40 L1038.35,421.40 Z" fill="url(#h2)" stroke="#141414" stroke-width="1.1" stroke-linejoin="miter"/>
<path d="M1070.45,407.50 L1023.95,407.50 L1022.65,409.00 L1022.65,419.60 L1023.95,421.00 L1070.45,421.00 L1071.25,420.20 L1071.25,408.30 Z" fill="#fff" stroke="#141414" stroke-width="1.4" stroke-linejoin="miter"/>
<rect x="1042.65" y="401.50" width="9.60" height="25.40" fill="#fff" stroke="#141414" stroke-width="1.3" rx="1.2"/>
<line x1="1052.25" y1="407.50" x2="1042.65" y2="407.50" stroke="#141414" stroke-width="0.7"/>
<line x1="1052.25" y1="421.00" x2="1042.65" y2="421.00" stroke="#141414" stroke-width="0.7"/>
<rect x="1038.95" y="400.40" width="2.90" height="28.10" fill="#fff" stroke="#141414" stroke-width="1.4" rx="1"/>
<rect x="1016.55" y="405.00" width="2.40" height="18.00" fill="#fff" stroke="#141414" stroke-width="0.9"/>
<rect x="1010.25" y="409.50" width="5.50" height="10.00" fill="none" stroke="#141414" stroke-width="0.8"/>
<line x1="1013.15" y1="408.10" x2="1009.75" y2="420.90" stroke="#141414" stroke-width="0.8"/>
<line x1="1009.85" y1="407.90" x2="1006.35" y2="420.40" stroke="#141414" stroke-width="0.8"/>
<line x1="1006.15" y1="408.10" x2="1002.95" y2="420.90" stroke="#141414" stroke-width="0.8"/>
<line x1="1002.85" y1="407.90" x2="999.55" y2="420.40" stroke="#141414" stroke-width="0.8"/>
<line x1="999.25" y1="408.10" x2="996.15" y2="420.90" stroke="#141414" stroke-width="0.8"/>
<line x1="995.95" y1="407.90" x2="992.75" y2="420.40" stroke="#141414" stroke-width="0.8"/>
<line x1="992.55" y1="408.10" x2="989.35" y2="420.90" stroke="#141414" stroke-width="0.8"/>
<line x1="989.25" y1="407.90" x2="985.95" y2="420.40" stroke="#141414" stroke-width="0.8"/>
<line x1="985.85" y1="408.10" x2="982.65" y2="420.90" stroke="#141414" stroke-width="0.8"/>
<line x1="982.55" y1="407.90" x2="979.25" y2="420.40" stroke="#141414" stroke-width="0.8"/>
<line x1="978.95" y1="408.10" x2="975.95" y2="420.90" stroke="#141414" stroke-width="0.8"/>
<line x1="975.65" y1="407.90" x2="972.55" y2="420.40" stroke="#141414" stroke-width="0.8"/>
<line x1="972.15" y1="408.10" x2="969.75" y2="420.90" stroke="#141414" stroke-width="0.8"/>
<line x1="968.85" y1="407.90" x2="966.35" y2="420.40" stroke="#141414" stroke-width="0.8"/>
<line x1="1012.75" y1="408.50" x2="1014.85" y2="419.80" stroke="#141414" stroke-width="0.7"/>
<line x1="1010.55" y1="408.80" x2="1012.45" y2="420.20" stroke="#141414" stroke-width="0.7"/>
<line x1="1005.75" y1="408.50" x2="1008.85" y2="419.80" stroke="#141414" stroke-width="0.7"/>
<line x1="1003.55" y1="408.80" x2="1006.45" y2="420.20" stroke="#141414" stroke-width="0.7"/>
<line x1="998.85" y1="408.50" x2="1002.05" y2="419.80" stroke="#141414" stroke-width="0.7"/>
<line x1="996.65" y1="408.80" x2="999.65" y2="420.20" stroke="#141414" stroke-width="0.7"/>
<line x1="992.15" y1="408.50" x2="995.25" y2="419.80" stroke="#141414" stroke-width="0.7"/>
<line x1="989.95" y1="408.80" x2="992.85" y2="420.20" stroke="#141414" stroke-width="0.7"/>
<line x1="985.45" y1="408.50" x2="988.45" y2="419.80" stroke="#141414" stroke-width="0.7"/>
<line x1="983.25" y1="408.80" x2="986.05" y2="420.20" stroke="#141414" stroke-width="0.7"/>
<line x1="978.55" y1="408.50" x2="981.75" y2="419.80" stroke="#141414" stroke-width="0.7"/>
<line x1="976.35" y1="408.80" x2="979.35" y2="420.20" stroke="#141414" stroke-width="0.7"/>
<line x1="971.75" y1="408.50" x2="975.05" y2="419.80" stroke="#141414" stroke-width="0.7"/>
<line x1="969.55" y1="408.80" x2="972.65" y2="420.20" stroke="#141414" stroke-width="0.7"/>
<circle cx="1011.55" cy="406.90" r="2.00" fill="#fff" stroke="#141414" stroke-width="1.0"/>
<circle cx="1004.55" cy="406.90" r="2.00" fill="#fff" stroke="#141414" stroke-width="1.0"/>
<circle cx="997.65" cy="406.90" r="2.00" fill="#fff" stroke="#141414" stroke-width="1.0"/>
<circle cx="990.95" cy="406.90" r="2.00" fill="#fff" stroke="#141414" stroke-width="1.0"/>
<circle cx="984.25" cy="406.90" r="2.00" fill="#fff" stroke="#141414" stroke-width="1.0"/>
<circle cx="977.35" cy="406.90" r="2.00" fill="#fff" stroke="#141414" stroke-width="1.0"/>
<circle cx="970.55" cy="406.90" r="2.00" fill="#fff" stroke="#141414" stroke-width="1.0"/>
<circle cx="1013.85" cy="421.70" r="2.00" fill="#fff" stroke="#141414" stroke-width="1.0"/>
<circle cx="1007.85" cy="421.70" r="2.00" fill="#fff" stroke="#141414" stroke-width="1.0"/>
<circle cx="1001.05" cy="421.70" r="2.00" fill="#fff" stroke="#141414" stroke-width="1.0"/>
<circle cx="994.25" cy="421.70" r="2.00" fill="#fff" stroke="#141414" stroke-width="1.0"/>
<circle cx="987.45" cy="421.70" r="2.00" fill="#fff" stroke="#141414" stroke-width="1.0"/>
<circle cx="980.75" cy="421.70" r="2.00" fill="#fff" stroke="#141414" stroke-width="1.0"/>
<circle cx="974.05" cy="421.70" r="2.00" fill="#fff" stroke="#141414" stroke-width="1.0"/>
<circle cx="967.85" cy="421.70" r="2.00" fill="#fff" stroke="#141414" stroke-width="1.0"/>
<path d="M969.25,408.30 L964.25,405.40 L948.25,404.40 L939.25,407.60 L933.25,410.30 L906.25,410.30 L902.25,407.60 L883.75,407.60 L883.75,413.70 L939.25,413.70 L939.25,412.60 L969.25,412.60 Z" fill="url(#h4)" stroke="#141414" stroke-width="0.9" stroke-linejoin="miter"/>
<path d="M969.25,420.50 L964.25,423.40 L948.25,424.40 L939.25,421.20 L933.25,418.50 L906.25,418.50 L902.25,421.20 L883.75,421.20 L883.75,415.10 L939.25,415.10 L939.25,416.20 L969.25,416.20 Z" fill="url(#h4)" stroke="#141414" stroke-width="0.9" stroke-linejoin="miter"/>
<line x1="969.25" y1="412.60" x2="969.25" y2="416.20" stroke="#141414" stroke-width="0.8"/>
<line x1="967.25" y1="414.40" x2="941.25" y2="414.40" stroke="#141414" stroke-width="0.7" stroke-dasharray="7 2 2 2"/>
<line x1="939.25" y1="414.40" x2="883.25" y2="414.40" stroke="#141414" stroke-width="1.5"/>
<path d="M966.25,398.60 L948.25,398.60 L948.25,400.60 L966.25,400.60 Z" fill="#fff" stroke="#141414" stroke-width="0.7" stroke-linejoin="miter"/>
<path d="M966.25,428.20 L948.25,428.20 L948.25,430.20 L966.25,430.20 Z" fill="#fff" stroke="#141414" stroke-width="0.7" stroke-linejoin="miter"/>
<path d="M966.25,400.60 L942.25,400.60 L942.25,403.00 L955.25,403.00 L966.25,404.00 Z" fill="url(#h3)" stroke="#141414" stroke-width="0.8" stroke-linejoin="miter"/>
<path d="M966.25,428.20 L942.25,428.20 L942.25,425.80 L955.25,425.80 L966.25,424.80 Z" fill="url(#h3)" stroke="#141414" stroke-width="0.8" stroke-linejoin="miter"/>
<rect x="914.25" y="401.40" width="27.80" height="7.60" fill="#fff" stroke="#141414" stroke-width="0.9"/>
<line x1="932.95" y1="402.90" x2="932.95" y2="408.00" stroke="#141414" stroke-width="1.1"/>
<line x1="929.35" y1="402.90" x2="929.35" y2="408.00" stroke="#141414" stroke-width="1.1"/>
<line x1="925.75" y1="402.90" x2="925.75" y2="408.00" stroke="#141414" stroke-width="1.1"/>
<line x1="922.15" y1="402.90" x2="922.15" y2="408.00" stroke="#141414" stroke-width="1.1"/>
<line x1="918.55" y1="402.90" x2="918.55" y2="408.00" stroke="#141414" stroke-width="1.1"/>
<line x1="914.95" y1="402.90" x2="914.95" y2="408.00" stroke="#141414" stroke-width="1.1"/>
<line x1="940.25" y1="403.00" x2="915.25" y2="403.00" stroke="#141414" stroke-width="0.7"/>
<rect x="914.25" y="419.80" width="27.80" height="7.20" fill="#fff" stroke="#141414" stroke-width="0.9"/>
<line x1="932.95" y1="421.30" x2="932.95" y2="426.00" stroke="#141414" stroke-width="1.1"/>
<line x1="929.35" y1="421.30" x2="929.35" y2="426.00" stroke="#141414" stroke-width="1.1"/>
<line x1="925.75" y1="421.30" x2="925.75" y2="426.00" stroke="#141414" stroke-width="1.1"/>
<line x1="922.15" y1="421.30" x2="922.15" y2="426.00" stroke="#141414" stroke-width="1.1"/>
<line x1="918.55" y1="421.30" x2="918.55" y2="426.00" stroke="#141414" stroke-width="1.1"/>
<line x1="914.95" y1="421.30" x2="914.95" y2="426.00" stroke="#141414" stroke-width="1.1"/>
<line x1="940.25" y1="421.40" x2="915.25" y2="421.40" stroke="#141414" stroke-width="0.7"/>
<ellipse cx="993.35" cy="398.7" rx="2.25" ry="1.3" fill="#111"/>
<ellipse cx="993.35" cy="430.0" rx="2.25" ry="1.3" fill="#111"/>
<ellipse cx="961.45" cy="405.0" rx="1.5" ry="1.1" fill="#111"/>
<ellipse cx="960.65" cy="423.7" rx="1.5" ry="1.1" fill="#111"/>
<ellipse cx="938.35" cy="403.2" rx="1.7" ry="1.5" fill="#111"/>
<ellipse cx="938.35" cy="425.6" rx="1.7" ry="1.5" fill="#111"/>
<ellipse cx="894.05" cy="408.6" rx="1.6" ry="1.2" fill="#111"/>
<ellipse cx="894.05" cy="420.0" rx="1.6" ry="1.2" fill="#111"/>
<line x1="989.25" y1="398.60" x2="976.25" y2="398.60" stroke="#141414" stroke-width="1.6"/>
<line x1="989.25" y1="430.20" x2="976.25" y2="430.20" stroke="#141414" stroke-width="1.6"/>
<rect x="881.65" y="407.40" width="2.10" height="13.80" fill="#fff" stroke="#141414" stroke-width="0.8"/>
<path d="M948.25,397.50 L948.25,401.20 L913.25,401.20" fill="none" stroke="#141414" stroke-width="0.8" stroke-linejoin="miter"/>
<path d="M948.25,430.30 L948.25,427.00 L913.25,427.00 L909.25,424.00 L902.25,421.30 L881.95,421.30 L881.95,418.00" fill="none" stroke="#141414" stroke-width="0.8" stroke-linejoin="miter"/>
<path d="M902.25,407.00 L881.95,407.00 L881.95,410.00" fill="none" stroke="#141414" stroke-width="0.8" stroke-linejoin="miter"/>
<rect x="865.80" y="410.00" width="14.20" height="8.00" fill="#fff" stroke="#141414" stroke-width="1.0"/>
<line x1="865.80" y1="411.50" x2="880.00" y2="411.50" stroke="#141414" stroke-width="0.7"/>
<line x1="865.80" y1="416.50" x2="880.00" y2="416.50" stroke="#141414" stroke-width="0.7"/>
<line x1="748.75" y1="361.25" x2="748.75" y2="397.50" stroke="#141414" stroke-width="1.2"/>
<line x1="748.75" y1="430.30" x2="748.75" y2="467.40" stroke="#141414" stroke-width="1.2"/>
<line x1="996.50" y1="361.25" x2="996.50" y2="397.50" stroke="#141414" stroke-width="1.2"/>
<line x1="996.50" y1="430.30" x2="996.50" y2="467.40" stroke="#141414" stroke-width="1.2"/>
<circle cx="872.75" cy="378.75" r="7.20" fill="#fff" stroke="#141414" stroke-width="0.9"/>
<line x1="863.00" y1="378.75" x2="884.00" y2="378.75" stroke="#141414" stroke-width="0.8"/>
<line x1="872.75" y1="368.25" x2="872.75" y2="389.25" stroke="#141414" stroke-width="0.8"/>
<circle cx="872.75" cy="449.40" r="7.20" fill="#fff" stroke="#141414" stroke-width="0.9"/>
<line x1="863.00" y1="449.40" x2="884.00" y2="449.40" stroke="#141414" stroke-width="0.8"/>
<line x1="872.75" y1="438.90" x2="872.75" y2="459.90" stroke="#141414" stroke-width="0.8"/>
<line x1="670.50" y1="414.40" x2="776.00" y2="414.40" stroke="#141414" stroke-width="0.8" stroke-dasharray="10 2.5 2.5 2.5"/>
<line x1="969.25" y1="414.40" x2="1074.50" y2="414.40" stroke="#141414" stroke-width="0.8" stroke-dasharray="10 2.5 2.5 2.5"/>
<text transform="translate(823.16,350.60) scale(0.8620,1)" font-size="19.5" fill="#141414" stroke="#141414" stroke-width="0.3">C2</text>
<text transform="translate(903.26,350.60) scale(0.7605,1)" font-size="19.5" fill="#141414" stroke="#141414" stroke-width="0.3">C1</text>
<text transform="translate(772.42,492.00) scale(0.8540,1)" font-size="19.5" fill="#141414" stroke="#141414" stroke-width="0.3">V2</text>
<text transform="translate(957.53,492.20) scale(0.7583,1)" font-size="19.5" fill="#141414" stroke="#141414" stroke-width="0.3">V1</text>
<line x1="86.50" y1="551.40" x2="86.50" y2="676.80" stroke="#1a1a1a" stroke-width="1.0"/>
<line x1="130.42" y1="551.40" x2="130.42" y2="676.80" stroke="#1a1a1a" stroke-width="1.0"/>
<line x1="174.34" y1="551.40" x2="174.34" y2="676.80" stroke="#1a1a1a" stroke-width="1.0"/>
<line x1="218.26" y1="551.40" x2="218.26" y2="676.80" stroke="#1a1a1a" stroke-width="1.0"/>
<line x1="262.18" y1="551.40" x2="262.18" y2="676.80" stroke="#1a1a1a" stroke-width="1.0"/>
<line x1="306.10" y1="551.40" x2="306.10" y2="676.80" stroke="#1a1a1a" stroke-width="1.0"/>
<line x1="350.02" y1="551.40" x2="350.02" y2="676.80" stroke="#1a1a1a" stroke-width="1.0"/>
<line x1="393.94" y1="551.40" x2="393.94" y2="676.80" stroke="#1a1a1a" stroke-width="1.0"/>
<line x1="437.86" y1="551.40" x2="437.86" y2="676.80" stroke="#1a1a1a" stroke-width="1.0"/>
<line x1="481.78" y1="551.40" x2="481.78" y2="676.80" stroke="#1a1a1a" stroke-width="1.0"/>
<line x1="525.70" y1="551.40" x2="525.70" y2="676.80" stroke="#1a1a1a" stroke-width="1.0"/>
<line x1="569.62" y1="551.40" x2="569.62" y2="676.80" stroke="#1a1a1a" stroke-width="1.0"/>
<line x1="613.54" y1="551.40" x2="613.54" y2="676.80" stroke="#1a1a1a" stroke-width="1.0"/>
<line x1="657.46" y1="551.40" x2="657.46" y2="676.80" stroke="#1a1a1a" stroke-width="1.0"/>
<line x1="701.38" y1="551.40" x2="701.38" y2="676.80" stroke="#1a1a1a" stroke-width="1.0"/>
<line x1="745.30" y1="551.40" x2="745.30" y2="676.80" stroke="#1a1a1a" stroke-width="1.0"/>
<line x1="829.70" y1="551.40" x2="829.70" y2="676.80" stroke="#1a1a1a" stroke-width="1.0"/>
<line x1="890.80" y1="551.40" x2="890.80" y2="676.80" stroke="#1a1a1a" stroke-width="1.0"/>
<line x1="86.00" y1="551.40" x2="891.30" y2="551.40" stroke="#1a1a1a" stroke-width="1.0"/>
<line x1="86.00" y1="593.30" x2="891.30" y2="593.30" stroke="#1a1a1a" stroke-width="1.0"/>
<line x1="86.00" y1="635.30" x2="891.30" y2="635.30" stroke="#1a1a1a" stroke-width="1.0"/>
<line x1="86.00" y1="676.80" x2="891.30" y2="676.80" stroke="#1a1a1a" stroke-width="1.0"/>
<text transform="translate(108.46,567.30) scale(0.86,1)" font-size="16" fill="#141414" stroke="#141414" stroke-width="0.2" text-anchor="middle">35</text>
<text transform="translate(108.46,586.90) scale(0.86,1)" font-size="16" fill="#141414" stroke="#141414" stroke-width="0.2" text-anchor="middle">(1.38)</text>
<text transform="translate(108.46,609.20) scale(0.86,1)" font-size="16" fill="#141414" stroke="#141414" stroke-width="0.2" text-anchor="middle">30</text>
<text transform="translate(108.46,628.80) scale(0.86,1)" font-size="16" fill="#141414" stroke="#141414" stroke-width="0.2" text-anchor="middle">(1.18)</text>
<text transform="translate(109.26,663.60) scale(0.82,1)" font-size="19.5" fill="#141414" stroke="#141414" stroke-width="0.2" text-anchor="middle">S</text>
<text transform="translate(152.38,567.30) scale(0.86,1)" font-size="16" fill="#141414" stroke="#141414" stroke-width="0.2" text-anchor="middle">112.6</text>
<text transform="translate(152.38,586.90) scale(0.86,1)" font-size="16" fill="#141414" stroke="#141414" stroke-width="0.2" text-anchor="middle">(4.43)</text>
<text transform="translate(152.38,609.20) scale(0.86,1)" font-size="16" fill="#141414" stroke="#141414" stroke-width="0.2" text-anchor="middle">109.6</text>
<text transform="translate(152.38,628.80) scale(0.86,1)" font-size="16" fill="#141414" stroke="#141414" stroke-width="0.2" text-anchor="middle">(4.32)</text>
<text transform="translate(153.18,663.60) scale(0.82,1)" font-size="19.5" fill="#141414" stroke="#141414" stroke-width="0.2" text-anchor="middle">L5</text>
<text transform="translate(196.30,567.30) scale(0.86,1)" font-size="16" fill="#141414" stroke="#141414" stroke-width="0.2" text-anchor="middle">19.2</text>
<text transform="translate(196.30,586.90) scale(0.86,1)" font-size="16" fill="#141414" stroke="#141414" stroke-width="0.2" text-anchor="middle">(0.76)</text>
<text transform="translate(196.30,609.20) scale(0.86,1)" font-size="16" fill="#141414" stroke="#141414" stroke-width="0.2" text-anchor="middle">20.7</text>
<text transform="translate(196.30,628.80) scale(0.86,1)" font-size="16" fill="#141414" stroke="#141414" stroke-width="0.2" text-anchor="middle">(0.82)</text>
<text transform="translate(197.10,663.60) scale(0.82,1)" font-size="19.5" fill="#141414" stroke="#141414" stroke-width="0.2" text-anchor="middle">L4</text>
<text transform="translate(240.22,567.30) scale(0.86,1)" font-size="16" fill="#141414" stroke="#141414" stroke-width="0.2" text-anchor="middle">75.5</text>
<text transform="translate(240.22,586.90) scale(0.86,1)" font-size="16" fill="#141414" stroke="#141414" stroke-width="0.2" text-anchor="middle">(2.97)</text>
<text transform="translate(240.22,609.20) scale(0.86,1)" font-size="16" fill="#141414" stroke="#141414" stroke-width="0.2" text-anchor="middle">75.5</text>
<text transform="translate(240.22,628.80) scale(0.86,1)" font-size="16" fill="#141414" stroke="#141414" stroke-width="0.2" text-anchor="middle">(2.97)</text>
<text transform="translate(241.02,663.60) scale(0.82,1)" font-size="19.5" fill="#141414" stroke="#141414" stroke-width="0.2" text-anchor="middle">L3</text>
<text transform="translate(284.14,567.30) scale(0.86,1)" font-size="16" fill="#141414" stroke="#141414" stroke-width="0.2" text-anchor="middle">47.6</text>
<text transform="translate(284.14,586.90) scale(0.86,1)" font-size="16" fill="#141414" stroke="#141414" stroke-width="0.2" text-anchor="middle">(1.87)</text>
<text transform="translate(284.14,609.20) scale(0.86,1)" font-size="16" fill="#141414" stroke="#141414" stroke-width="0.2" text-anchor="middle">47.6</text>
<text transform="translate(284.14,628.80) scale(0.86,1)" font-size="16" fill="#141414" stroke="#141414" stroke-width="0.2" text-anchor="middle">(1.87)</text>
<text transform="translate(284.94,663.60) scale(0.82,1)" font-size="19.5" fill="#141414" stroke="#141414" stroke-width="0.2" text-anchor="middle">L2</text>
<text transform="translate(328.06,567.30) scale(0.86,1)" font-size="16" fill="#141414" stroke="#141414" stroke-width="0.2" text-anchor="middle">51.7</text>
<text transform="translate(328.06,586.90) scale(0.86,1)" font-size="16" fill="#141414" stroke="#141414" stroke-width="0.2" text-anchor="middle">(2.04)</text>
<text transform="translate(328.06,609.20) scale(0.86,1)" font-size="16" fill="#141414" stroke="#141414" stroke-width="0.2" text-anchor="middle">51.7</text>
<text transform="translate(328.06,628.80) scale(0.86,1)" font-size="16" fill="#141414" stroke="#141414" stroke-width="0.2" text-anchor="middle">(2.04)</text>
<text transform="translate(328.86,663.60) scale(0.82,1)" font-size="19.5" fill="#141414" stroke="#141414" stroke-width="0.2" text-anchor="middle">L1</text>
<text transform="translate(371.98,567.30) scale(0.86,1)" font-size="16" fill="#141414" stroke="#141414" stroke-width="0.2" text-anchor="middle">151</text>
<text transform="translate(371.98,586.90) scale(0.86,1)" font-size="16" fill="#141414" stroke="#141414" stroke-width="0.2" text-anchor="middle">(5.95)</text>
<text transform="translate(371.98,609.20) scale(0.86,1)" font-size="16" fill="#141414" stroke="#141414" stroke-width="0.2" text-anchor="middle">151</text>
<text transform="translate(371.98,628.80) scale(0.86,1)" font-size="16" fill="#141414" stroke="#141414" stroke-width="0.2" text-anchor="middle">(5.95)</text>
<text transform="translate(372.78,663.60) scale(0.82,1)" font-size="19.5" fill="#141414" stroke="#141414" stroke-width="0.2" text-anchor="middle">L</text>
<text transform="translate(415.90,567.30) scale(0.86,1)" font-size="16" fill="#141414" stroke="#141414" stroke-width="0.2" text-anchor="middle">45.5</text>
<text transform="translate(415.90,586.90) scale(0.86,1)" font-size="16" fill="#141414" stroke="#141414" stroke-width="0.2" text-anchor="middle">(1.79)</text>
<text transform="translate(415.90,609.20) scale(0.86,1)" font-size="16" fill="#141414" stroke="#141414" stroke-width="0.2" text-anchor="middle">45.5</text>
<text transform="translate(415.90,628.80) scale(0.86,1)" font-size="16" fill="#141414" stroke="#141414" stroke-width="0.2" text-anchor="middle">(1.79)</text>
<text transform="translate(416.70,663.60) scale(0.82,1)" font-size="19.5" fill="#141414" stroke="#141414" stroke-width="0.2" text-anchor="middle">I</text>
<text transform="translate(459.82,567.30) scale(0.86,1)" font-size="16" fill="#141414" stroke="#141414" stroke-width="0.2" text-anchor="middle">43</text>
<text transform="translate(459.82,586.90) scale(0.86,1)" font-size="16" fill="#141414" stroke="#141414" stroke-width="0.2" text-anchor="middle">(1.69)</text>
<text transform="translate(459.82,609.20) scale(0.86,1)" font-size="16" fill="#141414" stroke="#141414" stroke-width="0.2" text-anchor="middle">38</text>
<text transform="translate(459.82,628.80) scale(0.86,1)" font-size="16" fill="#141414" stroke="#141414" stroke-width="0.2" text-anchor="middle">(1.5)</text>
<text transform="translate(460.62,663.60) scale(0.82,1)" font-size="19.5" fill="#141414" stroke="#141414" stroke-width="0.2" text-anchor="middle">H1</text>
<text transform="translate(503.74,567.30) scale(0.86,1)" font-size="16" fill="#141414" stroke="#141414" stroke-width="0.2" text-anchor="middle">65</text>
<text transform="translate(503.74,586.90) scale(0.86,1)" font-size="16" fill="#141414" stroke="#141414" stroke-width="0.2" text-anchor="middle">(2.56)</text>
<text transform="translate(503.74,609.20) scale(0.86,1)" font-size="16" fill="#141414" stroke="#141414" stroke-width="0.2" text-anchor="middle">55</text>
<text transform="translate(503.74,628.80) scale(0.86,1)" font-size="16" fill="#141414" stroke="#141414" stroke-width="0.2" text-anchor="middle">(2.17)</text>
<text transform="translate(504.54,663.60) scale(0.82,1)" font-size="19.5" fill="#141414" stroke="#141414" stroke-width="0.2" text-anchor="middle">H</text>
<text transform="translate(591.58,567.30) scale(0.86,1)" font-size="16" fill="#141414" stroke="#141414" stroke-width="0.2" text-anchor="middle">8.5</text>
<text transform="translate(591.58,586.90) scale(0.86,1)" font-size="16" fill="#141414" stroke="#141414" stroke-width="0.2" text-anchor="middle">(0.34)</text>
<text transform="translate(591.58,609.20) scale(0.86,1)" font-size="16" fill="#141414" stroke="#141414" stroke-width="0.2" text-anchor="middle">8.5</text>
<text transform="translate(591.58,628.80) scale(0.86,1)" font-size="16" fill="#141414" stroke="#141414" stroke-width="0.2" text-anchor="middle">(0.34)</text>
<text transform="translate(592.38,663.60) scale(0.82,1)" font-size="19.5" fill="#141414" stroke="#141414" stroke-width="0.2" text-anchor="middle">F</text>
<text transform="translate(784.80,578.75) scale(0.84,1)" font-size="19" fill="#141414" stroke="#141414" stroke-width="0.2" text-anchor="middle">G 1/2</text>
<text transform="translate(784.80,620.60) scale(0.84,1)" font-size="19" fill="#141414" stroke="#141414" stroke-width="0.2" text-anchor="middle">G 3/8</text>
<text transform="translate(785.10,663.40) scale(0.82,1)" font-size="19.5" fill="#141414" stroke="#141414" stroke-width="0.2" text-anchor="middle">Y</text>
<text transform="translate(848.15,568.00) scale(0.8941,1)" font-size="19" fill="#141414" stroke="#141414" stroke-width="0.3">2.9</text>
<text transform="translate(841.94,586.00) scale(0.9330,1)" font-size="19" fill="#141414" stroke="#141414" stroke-width="0.3">(6.4)</text>
<text transform="translate(848.15,609.60) scale(0.8907,1)" font-size="19" fill="#141414" stroke="#141414" stroke-width="0.3">2.5</text>
<text transform="translate(841.94,627.80) scale(0.9330,1)" font-size="19" fill="#141414" stroke="#141414" stroke-width="0.3">(5.5)</text>
<text transform="translate(835.42,652.20) scale(0.8732,1)" font-size="19" fill="#141414" stroke="#141414" stroke-width="0.3">Weight</text>
<text transform="translate(832.49,671.50) scale(0.9023,1)" font-size="19" fill="#141414" stroke="#141414" stroke-width="0.3">kg (lbs)</text>
</g>
</svg>
</body></html>
